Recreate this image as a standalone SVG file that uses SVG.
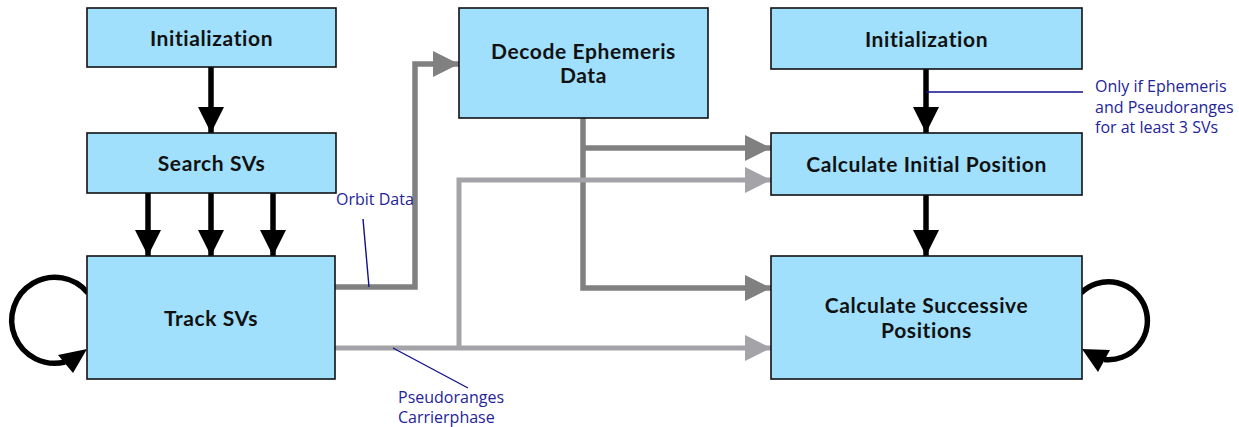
<svg xmlns="http://www.w3.org/2000/svg" width="1239" height="427" viewBox="0 0 1239 427">
<style>
.box{fill:#a0e0fc;stroke:#111;stroke-width:1.6}
.t{font-family:Lato,"Open Sans","Liberation Sans",sans-serif;font-weight:bold;font-size:21px;letter-spacing:0.6px;fill:#111;text-anchor:middle}
.lbl{font-family:"Open Sans","Liberation Sans",sans-serif;font-size:16px;fill:#24249a}
.blk{stroke:#000;stroke-width:5.5;fill:none}
.dg{stroke:#808080;stroke-width:5.5;fill:none}
.lg{stroke:#a3a3a8;stroke-width:5;fill:none}
.lead{stroke:#10108a;stroke-width:1.4;fill:none}
</style>
<defs>
<marker id="ab" markerUnits="userSpaceOnUse" markerWidth="26" markerHeight="26" viewBox="0 0 26 26" refX="26" refY="13" orient="auto"><path d="M0,0 L26,13 L0,26 Z" fill="#000"/></marker>
<marker id="ad" markerUnits="userSpaceOnUse" markerWidth="26" markerHeight="26" viewBox="0 0 26 26" refX="26" refY="13" orient="auto"><path d="M0,0 L26,13 L0,26 Z" fill="#808080"/></marker>
<marker id="al" markerUnits="userSpaceOnUse" markerWidth="26" markerHeight="26" viewBox="0 0 26 26" refX="26" refY="13" orient="auto"><path d="M0,0 L26,13 L0,26 Z" fill="#a3a3a8"/></marker>
</defs>
<g id="connectors">
<path class="blk" d="M211,67 V133" marker-end="url(#ab)"/>
<path class="blk" d="M148,193 V256" marker-end="url(#ab)"/>
<path class="blk" d="M211,193 V256" marker-end="url(#ab)"/>
<path class="blk" d="M273,193 V256" marker-end="url(#ab)"/>
<path class="blk" d="M926,69 V133" marker-end="url(#ab)"/>
<path class="blk" d="M926,195 V256" marker-end="url(#ab)"/>
<path class="blk" d="M88,293 A43,43 0 1,0 65,362"/>
<polygon points="87,349 58,355 73,373" fill="#000"/>
<path class="blk" d="M1081,293 A39,39 0 1,1 1104,359.5"/>
<polygon points="1082,349 1110,350 1098,372" fill="#000"/>
<path class="dg" d="M335,287 H415 V64 H459" marker-end="url(#ad)"/>
<path class="dg" d="M583,118 V288 H771" marker-end="url(#ad)"/>
<path class="dg" d="M583,148 H771" marker-end="url(#ad)"/>
<path class="lg" d="M335,348 H771" marker-end="url(#al)"/>
<path class="lg" d="M459,348 V180 H771" marker-end="url(#al)"/>
<path class="lead" d="M363,219 L369,287"/>
<path class="lead" d="M393,348 L468,388"/>
<path class="lead" d="M926,92 H1083"/>
<text class="lbl" x="336" y="205">Orbit Data</text>
<text class="lbl" x="398" y="403">Pseudoranges</text>
<text class="lbl" x="398" y="423">Carrierphase</text>
<text class="lbl" x="1095" y="92">Only if Ephemeris</text>
<text class="lbl" x="1095" y="113">and Pseudoranges</text>
<text class="lbl" x="1095" y="133">for at least 3 SVs</text>
</g>
<g id="init1"><rect class="box" x="87" y="8" width="249" height="59"/><text class="t" x="211.5" y="46">Initialization</text></g>
<g id="search"><rect class="box" x="87" y="133" width="249" height="60"/><text class="t" x="211.5" y="171">Search SVs</text></g>
<g id="track"><rect class="box" x="87" y="256" width="248" height="123"/><text class="t" x="211" y="326">Track SVs</text></g>
<g id="decode"><rect class="box" x="459" y="8" width="249" height="110"/><text class="t" x="583.5" y="59">Decode Ephemeris</text><text class="t" x="583.5" y="83">Data</text></g>
<g id="init2"><rect class="box" x="771" y="8" width="311" height="61"/><text class="t" x="926.5" y="47">Initialization</text></g>
<g id="calcinit"><rect class="box" x="771" y="133" width="311" height="62"/><text class="t" x="926.5" y="172">Calculate Initial Position</text></g>
<g id="calcsucc"><rect class="box" x="771" y="256" width="311" height="123"/><text class="t" x="926.5" y="313">Calculate Successive</text><text class="t" x="926.5" y="338">Positions</text></g>
</svg>
